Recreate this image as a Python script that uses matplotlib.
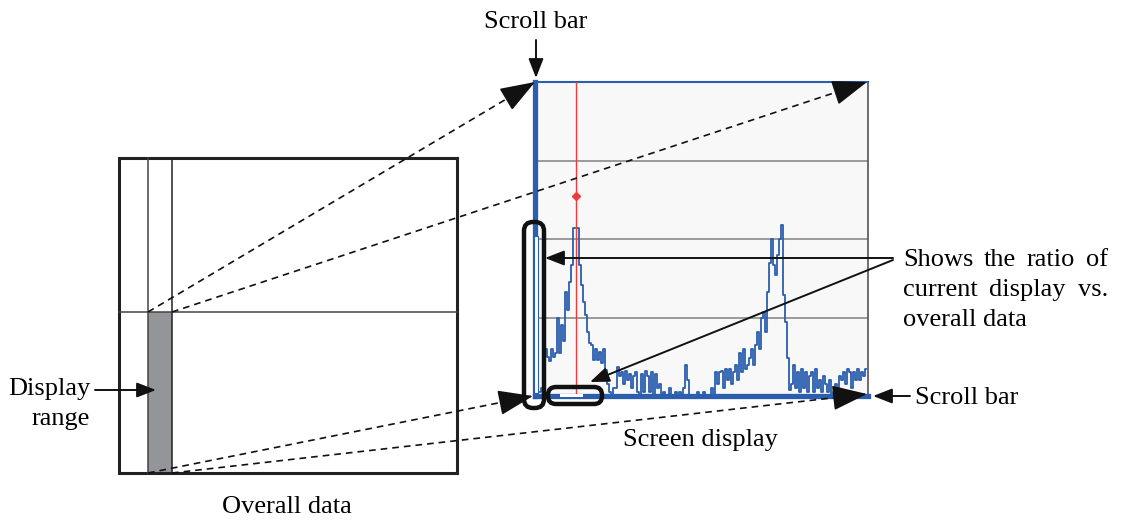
import matplotlib.pyplot as plt
from matplotlib.patches import Rectangle, FancyBboxPatch
import numpy as np

plt.rcParams['font.family'] = ['Liberation Serif', 'DejaVu Serif']

# spectrum shown on the screen (grid units, 4 = top of the display)
heights = [0.05, 0.1, 0.05, 0.6, 0.5, 0.45, 0.6, 0.5, 0.55, 1.0,
           0.55, 0.9, 0.7, 1.32, 1.1, 1.45, 1.67, 2.14, 2.14, 2.14,
           1.67, 1.41, 1.2, 1.03, 0.82, 0.68, 0.65, 0.46, 0.6, 0.46,
           0.56, 0.42, 0.6, 0.33, 0.15, 0.05, 0.0, 0.1, 0.1, 0.37,
           0.25, 0.3, 0.15, 0.32, 0.2, 0.28, 0.1, 0.25, 0.3, 0.05,
           0.0, 0.28, 0.05, 0.32, 0.25, 0.05, 0.3, 0.0, 0.28, 0.1,
           0.15, 0.0, 0.05, 0.0, 0.0, 0.1, 0.0, 0.0, 0.05, 0.0,
           0.05, 0.0, 0.1, 0.4, 0.2, 0.0, 0.0, 0.0, 0.0, 0.05,
           0.0, 0.0, 0.05, 0.0, 0.0, 0.0, 0.1, 0.0, 0.3, 0.15,
           0.3, 0.32, 0.1, 0.35, 0.2, 0.35, 0.15, 0.3, 0.4, 0.2,
           0.55, 0.3, 0.6, 0.35, 0.4, 0.48, 0.6, 0.4, 0.65, 0.82,
           0.6, 0.99, 1.07, 0.82, 1.32, 1.7, 2.0, 1.67, 1.54, 1.8,
           2.0, 2.18, 1.29, 0.94, 0.48, 0.08, 0.15, 0.4, 0.1, 0.3,
           0.05, 0.35, 0.1, 0.3, 0.05, 0.25, 0.3, 0.05, 0.35, 0.1,
           0.2, 0.05, 0.25, 0.15, 0.05, 0.2, 0.0, 0.05, 0.15, 0.05,
           0.25, 0.2, 0.3, 0.15, 0.35, 0.3, 0.1, 0.3, 0.2, 0.35,
           0.2, 0.3, 0.25, 0.35]
channels = np.arange(len(heights))
grid_levels = [1, 2, 3]
cursor_channel = 18
cursor_mark = 2.55

ratio_lines = ['Shows the ratio of', 'current display vs.', 'overall data']

blue = '#2b5fae'
red = '#ee3b3b'

fig = plt.figure(figsize=(11.27, 5.2), dpi=100)

# screen display panel
W, H = 1127, 520
px0, px1, py0, py1 = 535, 868, 82, 396
ax2 = fig.add_axes([px0 / W, (H - py1) / H, (px1 - px0) / W, (py1 - py0) / H])
ax2.set_zorder(1)
ax2.set_facecolor('#f8f8f8')
ax2.set_xlim(-2.5, (px1 - 540) / 2.0)
ax2.set_ylim(0, 4)
for g in grid_levels:
    ax2.axhline(g, color='#8a8a8a', lw=1.2, zorder=1)
ax2.step(channels, heights, where='mid', color=blue, lw=1.3, zorder=2)
ax2.axvline(cursor_channel, color=red, lw=1.0, zorder=3)
ax2.plot([cursor_channel], [cursor_mark], marker='D', ms=4, color=red, zorder=3)
ax2.set_xticks([])
ax2.set_yticks([])
ax2.spines['top'].set_color(blue)
ax2.spines['top'].set_linewidth(1.5)
ax2.spines['right'].set_color('#555555')
ax2.spines['right'].set_linewidth(1.2)
ax2.spines['left'].set_color(blue)
ax2.spines['left'].set_linewidth(3.8)
ax2.spines['bottom'].set_color(blue)
ax2.spines['bottom'].set_linewidth(3.8)

# overlay in pixel coordinates
ax = fig.add_axes([0, 0, 1, 1])
ax.set_zorder(2)
ax.patch.set_alpha(0)
ax.set_xlim(0, W)
ax.set_ylim(H, 0)
ax.axis('off')

# overall data box
ax.add_patch(Rectangle((148, 312), 24, 161, facecolor='#939598', edgecolor='none'))
ax.add_patch(Rectangle((119, 158), 338, 315, facecolor='none', edgecolor='#222222', lw=2.2))
ax.plot([148, 148], [158, 473], color='#444444', lw=1.1)
ax.plot([172, 172], [158, 473], color='#222222', lw=1.1)
ax.plot([119, 457], [312, 312], color='#444444', lw=1.1)

# scroll bar thumbs
ax.add_patch(Rectangle((533.5, 236), 4, 157, facecolor='white', edgecolor=blue, lw=0.8))
ax.add_patch(Rectangle((560, 393.5), 23, 3, facecolor='white', edgecolor='none'))

# rounded outlines around thumbs
ax.add_patch(FancyBboxPatch((524, 222), 20, 186, boxstyle='round,pad=0,rounding_size=9',
                            facecolor='none', edgecolor='#111111', lw=3.2))
ax.add_patch(FancyBboxPatch((548, 387), 54, 17, boxstyle='round,pad=0,rounding_size=8',
                            facecolor='none', edgecolor='#111111', lw=3.2))

# dashed projection lines, solid arrow heads
head = dict(arrowstyle='-|>,head_length=1.0,head_width=0.36', color='#111111', lw=1.2,
            mutation_scale=22, shrinkA=0, shrinkB=0)
for start, end in [((148, 312), (535, 82)), ((172, 312), (867, 82)),
                   ((148, 473), (533, 396)), ((172, 473), (867, 394))]:
    s = np.array(start, float)
    e = np.array(end, float)
    u = (e - s) / np.hypot(*(e - s))
    ax.plot([s[0], e[0] - 20 * u[0]], [s[1], e[1] - 20 * u[1]], color='#111111',
            lw=1.2, linestyle=(0, (4, 3)))
    ax.annotate('', xy=tuple(e), xytext=tuple(e - 32 * u), arrowprops=head)

small = dict(arrowstyle='-|>,head_length=0.9,head_width=0.35', color='#111111', lw=1.4,
             mutation_scale=13, shrinkA=0, shrinkB=0)
ax.annotate('', xy=(536, 78), xytext=(536, 40), arrowprops=small)
ax.annotate('', xy=(873, 396), xytext=(910, 396), arrowprops=small)
ax.annotate('', xy=(545, 258), xytext=(893, 258), arrowprops=small)
ax.annotate('', xy=(590, 382), xytext=(893, 260), arrowprops=small)
ax.annotate('', xy=(156, 390), xytext=(95, 390), arrowprops=small)

# labels
fs = 19
ax.text(536, 22, 'Scroll bar', ha='center', va='center', fontsize=fs)
ax.text(915, 398, 'Scroll bar', ha='left', va='center', fontsize=fs)
ax.text(90, 389, 'Display', ha='right', va='center', fontsize=fs)
ax.text(90, 419, 'range', ha='right', va='center', fontsize=fs)
ax.text(700, 440, 'Screen display', ha='center', va='center', fontsize=fs)
ax.text(287, 507, 'Overall data', ha='center', va='center', fontsize=fs)

# justified paragraph (first two lines stretched to the right edge)
x_left, x_right = 903, 1108
renderer = fig.canvas.get_renderer()
for k, line in enumerate(ratio_lines):
    y = 260 + 30 * k
    if k == len(ratio_lines) - 1:
        ax.text(x_left, y, line, ha='left', va='center', fontsize=fs)
        continue
    words = line.split()
    widths = []
    for w in words:
        t = ax.text(0, 0, w, fontsize=fs)
        widths.append(t.get_window_extent(renderer).width)
        t.remove()
    gap = (x_right - x_left - sum(widths)) / (len(words) - 1)
    x = x_left
    for w, wd in zip(words, widths):
        ax.text(x, y, w, ha='left', va='center', fontsize=fs)
        x += wd + gap

fig.savefig('out.png', dpi=100)
